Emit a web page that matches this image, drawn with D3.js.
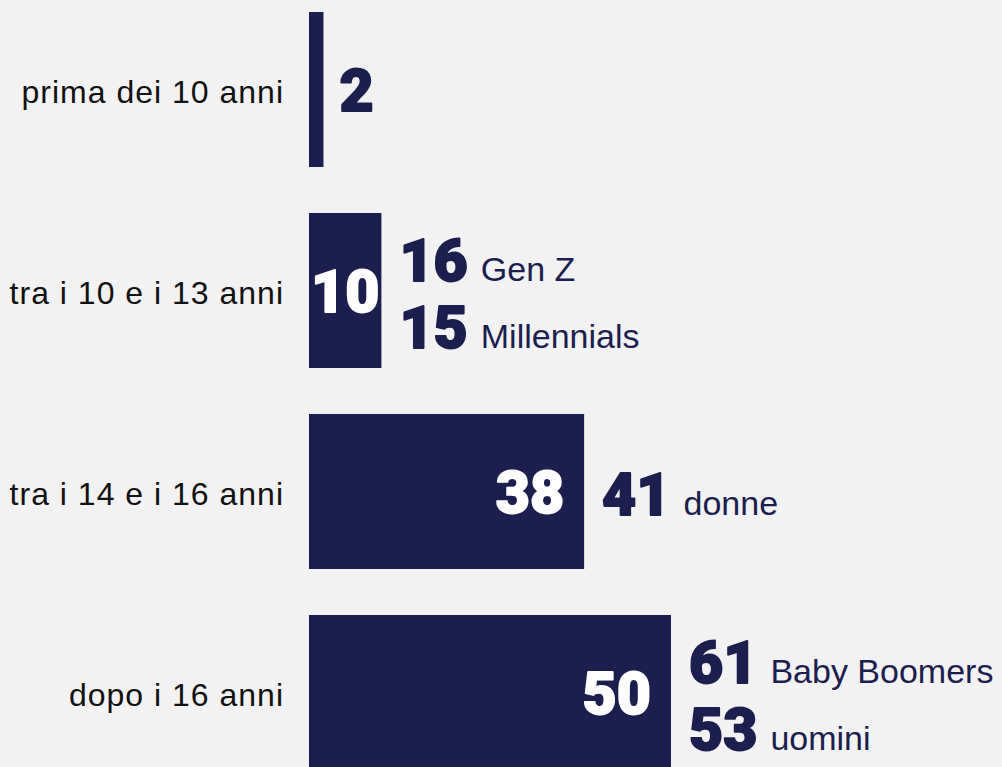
<!DOCTYPE html>
<html>
<head>
<meta charset="utf-8">
<script src="https://cdn.jsdelivr.net/npm/d3@7"></script>
<style>
  html, body { margin: 0; padding: 0; background: #f2f2f2; }
  svg { display: block; }
  .cat { font-family: "Liberation Sans", Arial, sans-serif; font-size: 32px; fill: #111; letter-spacing: 1px; }
  .num { font-family: "Arial Black", Roboto, Lato, sans-serif; font-weight: 900; font-size: 59px; stroke-width: 1.8px; stroke-linejoin: round; }
  .lab { font-family: "Liberation Sans", Arial, sans-serif; font-size: 34px; font-weight: 400; stroke: none; }
</style>
</head>
<body>
<div id="chart"></div>
<script>
var categories = ["prima dei 10 anni", "tra i 10 e i 13 anni", "tra i 14 e i 16 anni", "dopo i 16 anni"];
var values = [2, 10, 38, 50];
var noteValues = [[], [16, 15], [41], [61, 53]];
var noteLabels = [[], ["Gen Z", "Millennials"], ["donne"], ["Baby Boomers", "uomini"]];

var width = 1002,
    height = 767,
    navy = "#1c1f4d";

var svg = d3
    .select("#chart")
    .append("svg")
    .attr("width", width)
    .attr("height", height);

svg.append("rect")
    .attr("width", width)
    .attr("height", height)
    .attr("fill", "#f2f2f2");

var x = d3.scaleLinear().domain([0, 50]).range([309, 671]);

var y = d3
    .scaleBand()
    .domain(categories)
    .range([12, 770])
    .paddingInner(46 / 201)
    .paddingOuter(0);

var rows = categories.map(function (c, i) {
    return { cat: c, value: values[i], notes: noteValues[i], labels: noteLabels[i] };
});

// category labels
svg.append("g")
    .selectAll("text")
    .data(rows)
    .enter()
    .append("text")
    .attr("class", "cat")
    .attr("text-anchor", "end")
    .attr("x", x(0) - 25)
    .attr("y", function (d) { return y(d.cat) + y.bandwidth() / 2 + 13; })
    .text(function (d) { return d.cat; });

// bars
svg.append("g")
    .selectAll("rect")
    .data(rows)
    .enter()
    .append("rect")
    .attr("x", x(0))
    .attr("y", function (d) { return y(d.cat); })
    .attr("width", function (d) { return x(d.value) - x(0); })
    .attr("height", y.bandwidth())
    .attr("fill", navy);

// value labels (inside if they fit, otherwise outside)
var barEnds = [];
rows.forEach(function (d, i) {
    var end = x(d.value);
    var t = svg.append("text")
        .attr("class", "num")
        .attr("y", y(d.cat) + y.bandwidth() / 2 + 21)
        .text(d.value);
    var w = t.node().getComputedTextLength();
    var barW = end - x(0);
    if (w <= barW) {
        var tx = Math.max(end - 20, x(0) + w + 2);
        t.attr("text-anchor", "end").attr("x", Math.min(tx, end - 2))
            .attr("fill", "#fff").attr("stroke", "#fff");
        barEnds.push(end);
    } else {
        t.attr("text-anchor", "start").attr("x", end + 16)
            .attr("fill", navy).attr("stroke", navy);
        barEnds.push(end + 16 + w);
    }
});

// side notes
rows.forEach(function (d, i) {
    if (!d.notes.length) return;
    var cy = y(d.cat) + y.bandwidth() / 2;
    var offsets = d.notes.length === 1 ? [23] : [-10, 57];
    d.notes.forEach(function (v, j) {
        var t = svg.append("text")
            .attr("x", barEnds[i] + 18)
            .attr("y", cy + offsets[j])
            .attr("fill", navy);
        t.append("tspan").attr("class", "num").attr("stroke", navy).text(v);
        t.append("tspan").attr("class", "lab").attr("dx", 13).text(d.labels[j]);
    });
});
</script>
</body>
</html>
